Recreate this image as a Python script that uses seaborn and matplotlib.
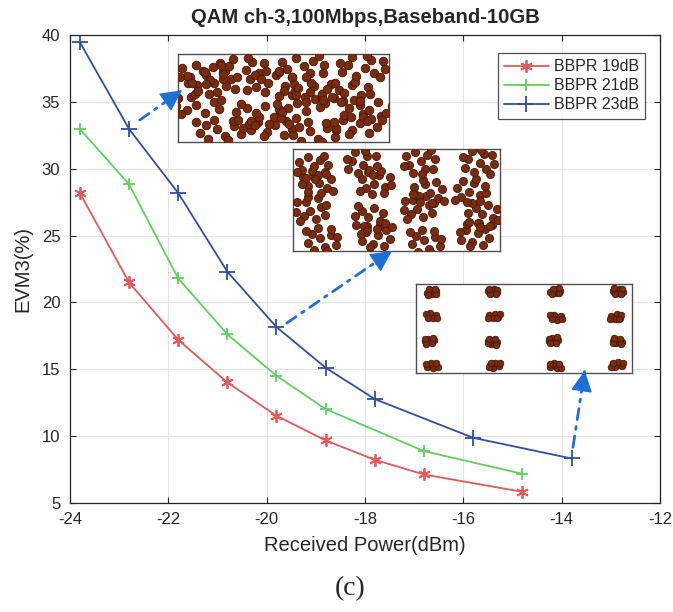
import matplotlib
matplotlib.use("Agg")
import matplotlib.pyplot as plt
import numpy as np
import seaborn as sns

# EVM3 versus received optical power for three BBPR settings
POWER_19 = [-23.8, -22.8, -21.8, -20.8, -19.8, -18.8, -17.8, -16.8, -14.8]
EVM_19 = [28.2, 21.5, 17.2, 14.0, 11.5, 9.65, 8.2, 7.1, 5.8]

POWER_21 = [-23.8, -22.8, -21.8, -20.8, -19.8, -18.8, -16.8, -14.8]
EVM_21 = [33.0, 28.85, 21.8, 17.6, 14.5, 12.0, 8.85, 7.15]

POWER_23 = [-23.8, -22.8, -21.8, -20.8, -19.8, -18.8, -17.8, -15.8, -13.8]
EVM_23 = [39.5, 33.0, 28.2, 22.3, 18.15, 15.1, 12.75, 9.85, 8.3]

SERIES_LABELS = ["BBPR 19dB", "BBPR 21dB", "BBPR 23dB"]
X_TICKS = [-24, -22, -20, -18, -16, -14, -12]
Y_TICKS = [5, 10, 15, 20, 25, 30, 35, 40]

# 16-QAM reference symbols and a hand-picked scatter pattern for received points
QAM_LEVELS = [-3, -1, 1, 3]
NOISE_PATTERN = [(-0.08, 0.05), (0.62, 0.28), (-0.55, 0.41), (0.24, -0.66),
                 (-0.78, -0.31), (0.91, -0.47), (-0.19, 0.87), (0.57, 0.79),
                 (-0.93, 0.66), (0.38, -0.97), (-0.44, -0.88), (0.98, 0.12)]
CLUSTER_SHIFT = [(0.31, -0.12), (-0.42, 0.27), (0.08, 0.45), (-0.22, -0.38),
                 (0.47, 0.18), (-0.05, -0.49), (0.36, 0.41), (-0.48, -0.06),
                 (0.14, -0.29), (-0.33, 0.44), (0.41, -0.43), (-0.17, 0.11),
                 (0.02, 0.33), (0.44, -0.21), (-0.39, -0.34), (0.23, 0.07)]

sns.set_theme(style="ticks")
plt.rcParams["font.family"] = ["Liberation Sans", "DejaVu Sans"]
plt.rcParams["axes.unicode_minus"] = False
plt.rcParams["axes.edgecolor"] = "#262626"
plt.rcParams["text.color"] = "#262626"
plt.rcParams["xtick.color"] = "#262626"
plt.rcParams["ytick.color"] = "#262626"

fig = plt.figure(figsize=(6.73, 6.12), dpi=100)
ax = fig.add_axes([0.104, 0.1789, 0.8767, 0.7631])

styles = [
    (POWER_19, EVM_19, "#e25a5a", (6, 2, 0), 9, SERIES_LABELS[0]),
    (POWER_21, EVM_21, "#5fd05f", "+", 9, SERIES_LABELS[1]),
    (POWER_23, EVM_23, "#2f4fa6", "+", 11, SERIES_LABELS[2]),
]
for xs, ys, col, mk, ms, lab in styles:
    sns.lineplot(x=xs, y=ys, ax=ax, color=col, marker=mk, markersize=ms,
                 markeredgecolor=col, markeredgewidth=1.3, linewidth=1.3,
                 label=lab)

ax.set_xlim(-24, -12)
ax.set_ylim(5, 40)
ax.set_xticks(X_TICKS)
ax.set_yticks(Y_TICKS)
ax.grid(True, color="#e3e3e3", linewidth=0.8)
ax.set_axisbelow(True)
ax.tick_params(direction="in", length=4, width=0.8, top=True, right=True,
               labelsize=12, pad=7)
for sp in ax.spines.values():
    sp.set_linewidth(0.9)
    sp.set_visible(True)

ax.set_title("QAM ch-3,100Mbps,Baseband-10GB", fontsize=14.6, fontweight="bold",
             pad=9)
ax.set_xlabel("Received Power(dBm)", fontsize=14.5, labelpad=6)
ax.set_ylabel("EVM3(%)", fontsize=14.5, labelpad=7)

leg = ax.legend(loc="upper right", bbox_to_anchor=(0.9746, 0.963),
                borderaxespad=0, fontsize=11.5, frameon=True, fancybox=False,
                edgecolor="#262626", handlelength=2.8, handletextpad=0.3,
                labelspacing=0.25, borderpad=0.4)
leg.get_frame().set_linewidth(0.9)


def draw_constellation(bounds, lim, sx, sy, size, shift, n_pts):
    ins = ax.inset_axes(bounds)
    ins.set_facecolor("white")
    pts_x, pts_y = [], []
    k = 0
    for qi in QAM_LEVELS:
        for qq in QAM_LEVELS:
            rot = k % 4
            flip = -1 if (k // 4) % 2 else 1
            cx = qi + CLUSTER_SHIFT[k][0] * shift * sx
            cy = qq + CLUSTER_SHIFT[k][1] * shift * sy
            for dx, dy in NOISE_PATTERN[:n_pts]:
                dx = dx * flip
                for _ in range(rot):
                    dx, dy = -dy, dx
                pts_x.append(cx + dx * sx)
                pts_y.append(cy + dy * sy)
            k += 1
    ins.scatter(pts_x, pts_y, s=size, color="#7a2c10", edgecolors="#4a1606",
                linewidths=0.6, zorder=3)
    ins.set_xlim(-lim[0], lim[0])
    ins.set_ylim(-lim[1], lim[1])
    ins.set_xticks([])
    ins.set_yticks([])
    ins.grid(False)
    for sp in ins.spines.values():
        sp.set_color("#505050")
        sp.set_linewidth(1.0)
        sp.set_visible(True)
    return ins


draw_constellation([0.183, 0.773, 0.358, 0.187], (4.3, 4.4), 1.0, 1.1, 38, 1.2, 12)
draw_constellation([0.3775, 0.5385, 0.351, 0.218], (3.9, 4.1), 0.62, 1.0, 34, 0.9, 12)
draw_constellation([0.586, 0.277, 0.367, 0.191], (3.5, 3.6), 0.2, 0.26, 22, 0.4, 9)

# dash-dot pointers from the blue curve to each constellation
ARROW_BLUE = "#1f6fd6"
pointers = [((-22.58, 33.67), (-21.72, 35.9)),
            ((-19.59, 18.45), (-17.45, 23.85)),
            ((-13.77, 9.15), (-13.53, 14.9))]
for (x0, y0), (x1, y1) in pointers:
    ax.annotate("", xy=(x1, y1), xytext=(x0, y0),
                arrowprops=dict(arrowstyle="-", color=ARROW_BLUE, lw=2.0,
                                linestyle=(0, (4, 2.5, 1, 2.5)),
                                shrinkA=0, shrinkB=0), zorder=6)
    hx = x1 - 0.06 * (x1 - x0)
    hy = y1 - 0.06 * (y1 - y0)
    ax.annotate("", xy=(x1, y1), xytext=(hx, hy),
                arrowprops=dict(arrowstyle="-|>,head_length=0.9,head_width=0.45",
                                color=ARROW_BLUE, lw=1.0, mutation_scale=15,
                                shrinkA=0, shrinkB=0), zorder=7)

fig.text(350 / 673, 1 - 589 / 612, "(c)", fontsize=20, ha="center",
         va="center", family=["Liberation Serif", "DejaVu Serif"])

fig.savefig("out.png", dpi=100)
